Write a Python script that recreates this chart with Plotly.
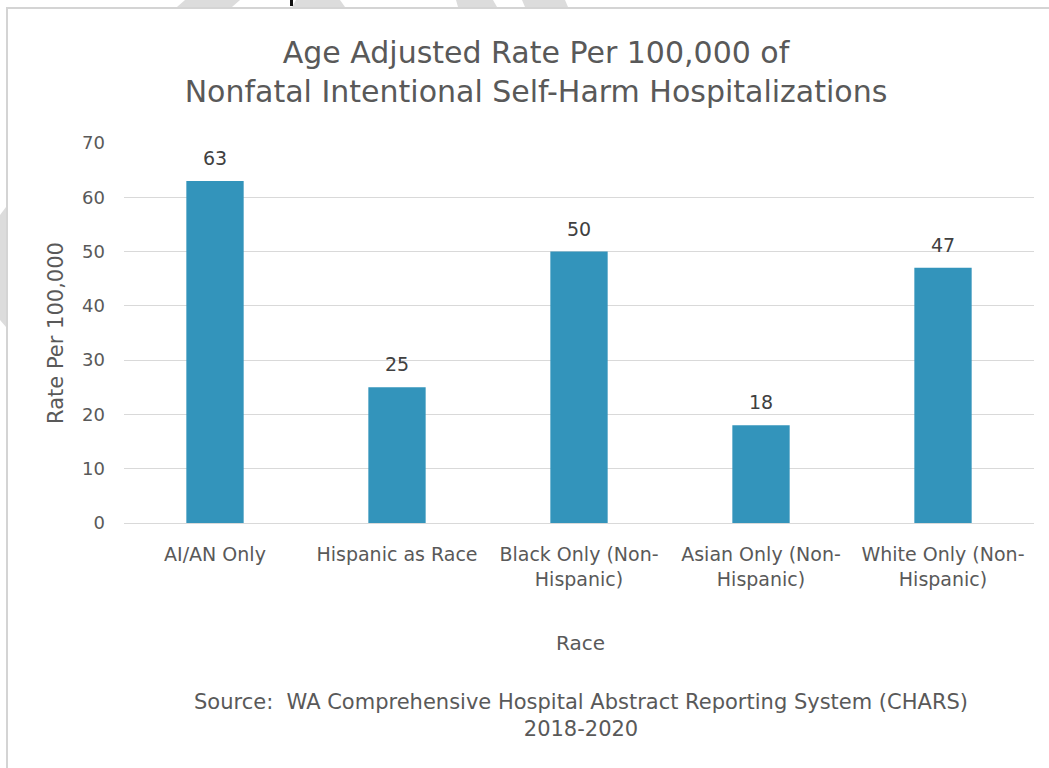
import plotly.graph_objects as go

categories = ["AI/AN Only", "Hispanic as Race", "Black Only (Non-<br>Hispanic)",
              "Asian Only (Non-<br>Hispanic)", "White Only (Non-<br>Hispanic)"]
rates = [63, 25, 50, 18, 47]
y_ticks = [0, 10, 20, 30, 40, 50, 60, 70]

W, H = 1049, 768
L, R, T, B = 124, 1034, 143, 523  # plot area pixel box

def px(x):
    return (x - L) / (R - L)

def py(y):
    return (B - y) / (B - T)

FONT = "DejaVu Sans"
TXT = "#595959"

fig = go.Figure()
fig.add_trace(go.Bar(
    x=categories, y=rates, marker_color="#3394BB", marker_line_width=0,
    hoverinfo="x+y",
))

annotations = []
for c, v in zip(categories, rates):
    annotations.append(dict(x=c, y=v, xref="x", yref="y", text=str(v), showarrow=False,
                            yanchor="bottom", yshift=10,
                            font=dict(family=FONT, size=19, color="#404040")))
annotations.append(dict(x=px(580), y=py(643), xref="paper", yref="paper", text="Race",
                        showarrow=False, yanchor="middle",
                        font=dict(family=FONT, size=20, color=TXT)))
annotations.append(dict(x=px(581), y=py(715), xref="paper", yref="paper",
                        text="Source:  WA Comprehensive Hospital Abstract Reporting System (CHARS)<br>2018-2020",
                        showarrow=False, align="center", yanchor="middle",
                        font=dict(family=FONT, size=21, color=TXT)))

shapes = []
# chart border (left and top edges visible)
shapes.append(dict(type="line", xref="paper", yref="paper", x0=px(7), x1=px(7), y0=py(8), y1=py(770),
                   line=dict(color="#d4d4d4", width=2)))
shapes.append(dict(type="line", xref="paper", yref="paper", x0=px(6), x1=px(1052), y0=py(8), y1=py(8),
                   line=dict(color="#d4d4d4", width=2)))
# light grey background fragments
def poly(points):
    d = "M " + " L ".join(f"{px(a)},{py(b)}" for a, b in points) + " Z"
    return dict(type="path", xref="paper", yref="paper", path=d, fillcolor="#dcdcdc",
                line=dict(width=0), layer="below")
shapes.append(poly([(185, 0), (240, 0), (232, 7), (177, 7)]))
shapes.append(poly([(296, 0), (340, 0), (345, 7), (292, 7)]))
shapes.append(poly([(456, 0), (493, 0), (497, 7), (458, 7)]))
shapes.append(poly([(522, 0), (565, 0), (568, 7), (525, 7)]))
shapes.append(poly([(0, 215), (6, 207), (6, 327), (0, 320)]))
# small dark fragment at top
shapes.append(dict(type="rect", xref="paper", yref="paper", x0=px(290), x1=px(293), y0=py(0), y1=py(6),
                   fillcolor="#111111", line=dict(width=0)))

fig.update_layout(
    width=W, height=H,
    margin=dict(l=L, r=W - R, t=T, b=H - B, pad=0),
    paper_bgcolor="white", plot_bgcolor="white",
    bargap=0.685,
    showlegend=False,
    title=dict(text="Age Adjusted Rate Per 100,000 of<br>Nonfatal Intentional Self-Harm Hospitalizations",
               x=536 / W, xref="container", xanchor="center",
               y=1 - 63 / H, yref="container", yanchor="middle",
               font=dict(family=FONT, size=30, color=TXT)),
    font=dict(family=FONT, color=TXT, size=18),
    annotations=annotations,
    shapes=shapes,
    xaxis=dict(showgrid=False, showline=True, linecolor="#d9d9d9", linewidth=1,
               ticks="", tickfont=dict(family=FONT, size=19, color=TXT),
               ticklabelstandoff=14, fixedrange=True),
    yaxis=dict(range=[0, 70], tickvals=y_ticks, showgrid=True, gridcolor="#d9d9d9", gridwidth=1,
               zeroline=False, showline=False, ticks="",
               tickfont=dict(family=FONT, size=18, color=TXT), ticklabelstandoff=18,
               title=dict(text="Rate Per 100,000", font=dict(family=FONT, size=21, color=TXT),
                          standoff=12),
               fixedrange=True),
)

fig.write_html("out.html", config={"displayModeBar": False},
               post_script="document.body.style.margin='0';document.body.style.padding='0';")
